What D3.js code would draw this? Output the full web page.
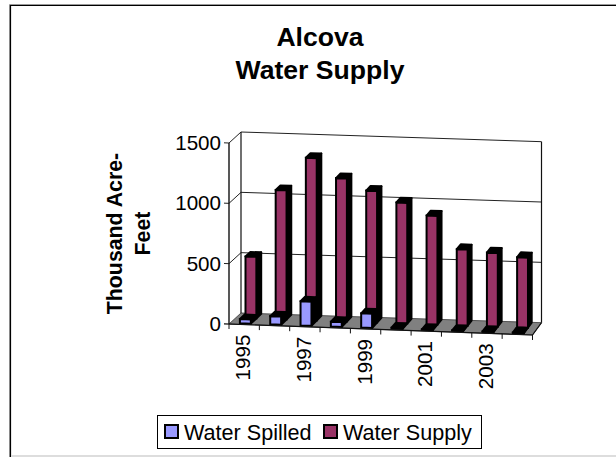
<!DOCTYPE html>
<html><head><meta charset="utf-8">
<script src="https://cdnjs.cloudflare.com/ajax/libs/d3/7.8.5/d3.min.js"></script>
<style>html,body{margin:0;padding:0;background:#fff}svg{display:block}text{font-family:"Liberation Sans",Arial,sans-serif;fill:#000}</style>
</head><body><div id="c"></div>
<script>
const years=[1995,1996,1997,1998,1999,2000,2001,2002,2003,2004];
const waterSpilled=[35,68,200,40,118,8,4,4,4,4];
const waterSupply=[510,1070,1345,1185,1090,1000,900,630,610,580];
const yTicks=[0,500,1000,1500];
const xTickLabels=[1995,1997,1999,2001,2003];
const colSpilled="#9999FF",colSupply="#993366",floorCol="#808080";

const svg=d3.select("#c").append("svg").attr("width",616).attr("height",457);
const line=d3.line();
// oblique projection: u along the front edge (px), t depth 0..1, h height px
const X0=229,Y0=324,W=303.5,slope=11/304;
const band=d3.scaleBand().domain(years).range([0,W]).paddingInner(0.64).paddingOuter(0.32);
const hs=d3.scaleLinear().domain([0,1500]).range([0,181]);
const P=(u,t,v)=>[X0+u+t*(12-3*u/W), Y0+u*slope-t*(11+1.3*u/W)-hs(v)];
const poly=pts=>line(pts)+"Z";

// frame
svg.append("path").attr("d","M9.5,457V4.5H616").attr("fill","none").attr("stroke","#999").attr("stroke-width",1);
svg.append("path").attr("d","M10.5,457V5.5H616").attr("fill","none").attr("stroke","#000").attr("stroke-width",1.2);
svg.append("line").attr("x1",11).attr("x2",616).attr("y1",456).attr("y2",456).attr("stroke","#ddd").attr("stroke-width",2);

// walls
const g=svg.append("g");
g.append("path").attr("d",poly([P(0,1,0),P(W,1,0),P(W,1,1500),P(0,1,1500)])).attr("fill","#fff").attr("stroke","none");
yTicks.slice(1).forEach(v=>{
  g.append("path").attr("d",line([P(-5,0,v),P(0,0,v),P(0,1,v),P(W,1,v)])).attr("fill","none").attr("stroke","#222").attr("stroke-width",1);
});
// floor
g.append("path").attr("d",poly([P(0,0,0),P(W,0,0),P(W,1,0),P(0,1,0)])).attr("fill",floorCol).attr("stroke","#333").attr("stroke-width",.8);
g.append("path").attr("d",line([P(0,1,0),P(0,1,1500)])).attr("stroke","#111").attr("stroke-width",1.2).attr("fill","none");
g.append("path").attr("d",line([P(W,1,0),P(W,1,1500)])).attr("stroke","#111").attr("stroke-width",1.2).attr("fill","none");
g.append("path").attr("d",line([P(0,0,0),P(0,0,1500)])).attr("stroke","#111").attr("stroke-width",1.4).attr("fill","none");

// bars
function bars(vals,col,t0,t1){
  years.forEach((yr,i)=>{
    const a=band(yr),b=a+band.bandwidth(),v=vals[i];
    g.append("path").attr("d",poly([P(b,t0,0),P(b,t1,0),P(b,t1,v),P(b,t0,v)])).attr("fill","#000").attr("stroke","#000").attr("stroke-width",2).attr("stroke-linejoin","round");
    g.append("path").attr("d",poly([P(a,t0,v),P(b,t0,v),P(b,t1,v),P(a,t1,v)])).attr("fill","#000").attr("stroke","#000").attr("stroke-width",2).attr("stroke-linejoin","round");
    g.append("path").attr("d",poly([P(a,t0,0),P(b,t0,0),P(b,t0,v),P(a,t0,v)])).attr("fill",col).attr("stroke","#000").attr("stroke-width",2);
  });
}
bars(waterSupply,colSupply,0.57,0.98);
bars(waterSpilled,colSpilled,0.1,0.5);

// front edge + ticks
g.append("path").attr("d",line([P(-5,0,0),P(W,0,0),P(W,1,0)])).attr("fill","none").attr("stroke","#111").attr("stroke-width",1.2);
d3.range(11).forEach(i=>{
  const [x,y]=P(W*i/10,0,0);
  g.append("line").attr("x1",x).attr("x2",x).attr("y1",y).attr("y2",y+5).attr("stroke","#111");
});
// y labels
yTicks.forEach(v=>{
  const [x,y]=P(0,0,v);
  svg.append("text").attr("x",x-8).attr("y",y+7).attr("text-anchor","end").attr("font-size",20.6).text(v);
});
// x labels
xTickLabels.forEach(yr=>{
  const u=band(yr)+band.bandwidth()/2, [x,y]=P(u,0,0);
  svg.append("text").attr("transform",`translate(${x+6},${y+10}) rotate(-90)`).attr("text-anchor","end").attr("font-size",20.6).text(yr);
});
// titles
const title=[["Alcova",46],["Water Supply",79]];
title.forEach(([s,y])=>svg.append("text").attr("x",320).attr("y",y).attr("text-anchor","middle").attr("font-size",26.6).attr("font-weight","bold").text(s));
[["Thousand Acre-",122],["Feet",150]].forEach(([s,x])=>svg.append("text").attr("transform",`translate(${x},233.5) rotate(-90)`).attr("text-anchor","middle").attr("font-size",21.3).attr("font-weight","bold").text(s));
// legend
svg.append("rect").attr("x",157.5).attr("y",415.5).attr("width",324).attr("height",33).attr("fill","#fff").attr("stroke","#000").attr("stroke-width",1);
[["Water Spilled",colSpilled,165,184],["Water Supply",colSupply,324,343]].forEach(([s,c,x,tx])=>{
  svg.append("rect").attr("x",x).attr("y",425).attr("width",13).attr("height",13).attr("fill",c).attr("stroke","#000").attr("stroke-width",2);
  svg.append("text").attr("x",tx).attr("y",440).attr("font-size",21.6).text(s);
});
</script></body></html>
